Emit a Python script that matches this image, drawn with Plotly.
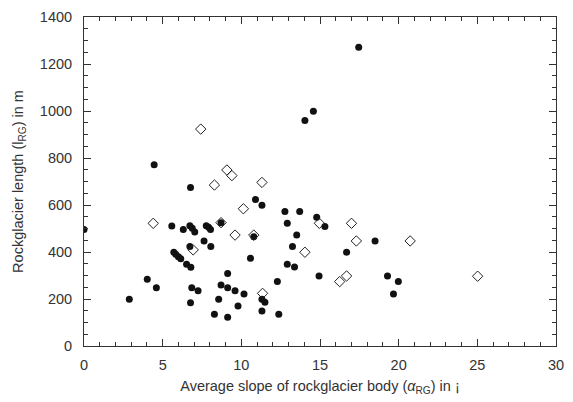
import plotly.graph_objects as go

# Filled circles (rockglaciers, group 1)
filled_x = [0.0, 2.88, 4.02, 4.46, 4.6, 5.58, 5.71, 5.83, 6.0, 6.15, 6.31, 6.52, 6.73, 6.73, 6.77, 6.77,
            6.79, 6.85, 6.88, 7.04, 7.25, 7.63, 7.77, 7.92, 8.04, 8.06, 8.29, 8.56, 8.71, 8.71, 9.13, 9.13,
            9.13, 9.6, 9.79, 10.17, 10.58, 10.79, 10.9, 11.31, 11.31, 11.31, 11.5, 12.29, 12.38, 12.77,
            12.92, 12.92, 13.25, 13.38, 13.52, 13.71, 14.04, 14.58, 14.79, 14.94, 15.31, 16.69, 17.46,
            18.5, 19.29, 19.67, 19.98]
filled_y = [496, 199, 284, 771, 248, 511, 399, 390, 380, 371, 496, 348, 512, 423, 674, 184,
            335, 248, 501, 485, 235, 447, 512, 505, 496, 423, 135, 199, 525, 260, 309, 248,
            122, 235, 170, 221, 373, 465, 623, 599, 199, 149, 186, 274, 135, 572,
            522, 348, 423, 336, 472, 572, 960, 999, 548, 298, 508, 399, 1271,
            447, 298, 221, 274]

# Open diamonds (group 2)
open_x = [4.4, 6.94, 7.42, 8.29, 8.71, 9.08, 9.4, 9.6, 10.13, 10.79, 11.31, 11.35, 14.04, 14.96,
          16.25, 16.69, 17.0, 17.31, 20.73, 25.02]
open_y = [522, 409, 923, 685, 525, 749, 725, 472, 584, 472, 696, 224, 399, 522,
          274, 298, 522, 447, 447, 297]

x_ticks = [0, 5, 10, 15, 20, 25, 30]
y_ticks = [0, 200, 400, 600, 800, 1000, 1200, 1400]

FONT = "Liberation Sans, Arial, sans-serif"

fig = go.Figure()
fig.add_trace(go.Scatter(x=filled_x, y=filled_y, mode="markers",
                         marker=dict(symbol="circle", size=7, color="#111111",
                                     line=dict(width=0)),
                         showlegend=False))
fig.add_trace(go.Scatter(x=open_x, y=open_y, mode="markers",
                         marker=dict(symbol="diamond-open", size=8, color="#222222",
                                     line=dict(width=1)),
                         showlegend=False))

axis_common = dict(showline=True, linecolor="#333333", linewidth=1, mirror="allticks",
                   ticks="inside", ticklen=7, tickcolor="#333333", tickwidth=1,
                   showgrid=False, zeroline=False,
                   tickfont=dict(family=FONT, size=14.5, color="#333333"))

fig.update_xaxes(range=[0, 30], tickvals=x_ticks, ticklabelstandoff=6,
                 minor=dict(ticks="inside", ticklen=4, dtick=1, tickcolor="#333333", showgrid=False),
                 title=dict(text="Average slope of rockglacier body (<i>α</i><sub>RG</sub>) in ¡",
                            font=dict(family=FONT, size=14.5, color="#333333"),
                            standoff=8),
                 **axis_common)
fig.update_yaxes(range=[0, 1400], tickvals=y_ticks, ticklabelstandoff=8,
                 minor=dict(ticks="inside", ticklen=4, dtick=50, tickcolor="#333333", showgrid=False),
                 title=dict(text="Rockglacier length (l<sub>RG</sub>) in m",
                            font=dict(family=FONT, size=14.5, color="#333333"),
                            standoff=12),
                 **axis_common)

fig.update_layout(width=573, height=402, margin=dict(l=84, r=9, t=17, b=56),
                  plot_bgcolor="white", paper_bgcolor="white")

fig.write_html("out.html")
